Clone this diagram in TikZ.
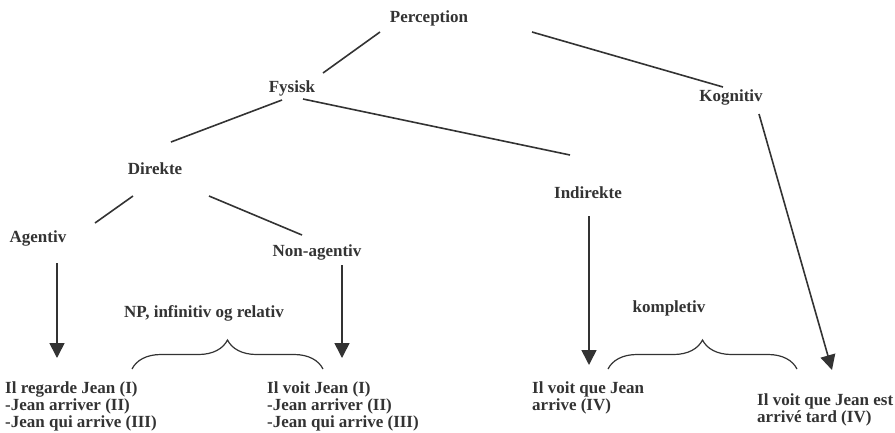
\documentclass[tikz,border=0pt]{standalone}
\usepackage{fontspec}
\setmainfont{Liberation Serif}
\usetikzlibrary{arrows.meta,calc,decorations.pathreplacing}

\begin{document}
\begin{tikzpicture}[x=1pt,y=-1pt,
    font=\fontsize{17}{17}\selectfont\bfseries,
    lvl/.style={text=black!80,inner sep=2pt,text height=12pt,text depth=4pt},
    ex/.style={text=black!80,anchor=north west,align=left,inner sep=0pt},
    edge/.style={draw=black!80,line width=1.6pt},
    arr/.style={edge,-{Triangle[width=15pt,length=15pt]}},
    brc/.style={draw=black!80,line width=1.2pt,decorate,decoration={brace,amplitude=29pt}}]
  \useasboundingbox (0,0) rectangle (895,432);
  % tree labels
  \node[lvl] (perc)   at (429,18)  {Perception};
  \node[lvl] (fys)    at (292,88)  {Fysisk};
  \node[lvl] (kog)    at (731,97)  {Kognitiv};
  \node[lvl] (dir)    at (155,170) {Direkte};
  \node[lvl] (indir)  at (588,194) {Indirekte};
  \node[lvl] (agt)    at (38,238)  {Agentiv};
  \node[lvl] (nonagt) at (317,252) {Non-agentiv};
  % examples
  \node[ex] (regarde) at (5,381)   {Il regarde Jean (I)\\-Jean arriver (II)\\-Jean qui arrive (III)};
  \node[ex] (voit)    at (267,381) {Il voit Jean (I)\\-Jean arriver (II)\\-Jean qui arrive (III)};
  \node[ex] (que)     at (532,381) {Il voit que Jean\\arrive (IV)};
  \node[ex] (est)     at (757,393) {Il voit que Jean est\\arrivé tard (IV)};
  \node[lvl] (np)   at (204,313) {NP, infinitiv og relativ};
  \node[lvl] (komp) at (669,308) {kompletiv};
  % branches
  \draw[edge] ($(perc)+(-49,14)$) -- ($(fys)+(31,-15)$);
  \draw[edge] ($(perc)+(103,14)$) -- ($(kog)+(-8,-10)$);
  \draw[edge] ($(fys)+(-10,12)$) -- ($(dir)+(16,-28)$);
  \draw[edge] ($(fys)+(11,11)$) -- ($(indir)+(-18,-39)$);
  \draw[edge] ($(dir)+(-22,26)$) -- ($(agt)+(57,-15)$);
  \draw[edge] ($(dir)+(54,26)$) -- ($(nonagt)+(-15,-17)$);
  \draw[arr] ($(agt)+(19,25)$) -- ($(regarde.north west)+(52,-23)$);
  \draw[arr] ($(nonagt)+(25,13)$) -- ($(voit.north west)+(75,-23)$);
  \draw[arr] ($(indir)+(1,22)$) -- ($(que.north west)+(57,-16)$);
  \draw[arr] ($(kog)+(28,17)$) -- ($(est.north west)+(75,-23)$);
  % braces
  \coordinate (npL) at (132,369);
  \coordinate (npR) at (323,369);
  \coordinate (kompL) at (608,369);
  \coordinate (kompR) at (797,369);
  \draw[brc] (npL) -- (npR);
  \draw[brc] (kompL) -- (kompR);
\end{tikzpicture}
\end{document}
